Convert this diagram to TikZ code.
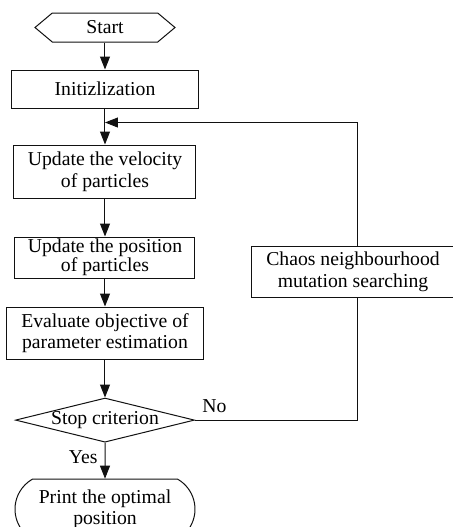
\documentclass[tikz,border=0pt]{standalone}
\usepackage{fontspec}
\setmainfont{Liberation Serif}
\usepackage{tikz}
\usetikzlibrary{shapes.geometric, shapes.symbols, shapes.misc, arrows.meta, positioning, calc}
\definecolor{flowgray}{HTML}{111111}

\begin{document}
\begin{tikzpicture}[
    node distance=18pt,
    line width=0.5pt,
    every node/.style={font=\fontsize{9.85}{10.8}\selectfont, text=black},
    startnode/.style={signal, signal to=west and east, signal pointer angle=80, draw=flowgray, minimum width=70pt, minimum height=14.5pt, inner sep=0pt},
    procbox/.style={rectangle, draw=flowgray, fill=white, minimum width=#1, align=center, inner xsep=2pt, inner ysep=0pt},
    decision/.style={diamond, aspect=4, draw=flowgray, minimum width=89.5pt, minimum height=21.5pt, inner sep=0pt},
    endnode/.style={rounded rectangle, rounded rectangle arc length=120, draw=flowgray, minimum width=90pt, minimum height=30pt, align=center, inner sep=0pt},
    arr/.style={-{Triangle[length=6.5pt, width=5pt]}, color=flowgray},
    branchlabel/.style={inner sep=3.5pt},
]

\useasboundingbox (-52.5pt,13.75pt) rectangle (174pt,-249.75pt);

% ─── Main column ───
\node[startnode] (start) at (0,0) {Start};
\node[procbox=93.5pt, minimum height=19pt, below=13.5pt of start] (init) {Initizlization};
\coordinate[below=7pt of init] (merge);
\node[procbox=91pt, minimum height=26.5pt, below=18pt of init] (vel) {Update the velocity\\of particles};
\node[procbox=90pt, minimum height=20.5pt, below=19pt of vel, font=\fontsize{9.85}{9.6}\selectfont] (pos) {Update the position\\of particles};
\node[procbox=98.5pt, minimum height=26pt, below=14pt of pos] (eval) {Evaluate objective of\\parameter estimation};
\node[decision, below=19pt of eval] (stop) {Stop criterion};
\node[endnode, below=18pt of stop] (print) {Print the optimal\\position};

% ─── Feedback branch ───
\node[procbox=101pt, minimum height=25.5pt, right=28pt of pos, yshift=-7pt] (chaos) {Chaos neighbourhood\\mutation searching};
\coordinate (loopx) at ($(chaos.south)+(2.5pt,0)$);

% ─── Arrows ───
\draw[arr] (start) -- (init);
\draw[arr] (init) -- (vel);
\draw[arr] (vel) -- (pos);
\draw[arr] (pos) -- (eval);
\draw[arr] (eval) -- (stop);
\draw[arr] (stop) -- node[branchlabel, left, pos=0.4] {Yes} (print);
\draw[color=flowgray] (stop.east) -- node[branchlabel, above right, pos=0] {No} (stop.east -| loopx) -- (loopx);
\draw[arr] (chaos.north -| loopx) -- (loopx |- merge) -- (merge);

\end{tikzpicture}
\end{document}
